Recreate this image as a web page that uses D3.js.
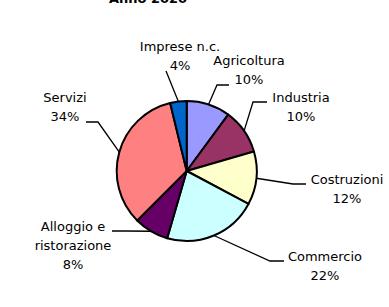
<!DOCTYPE html>
<html>
<head>
<meta charset="utf-8">
<script src="https://cdn.jsdelivr.net/npm/d3@7"></script>
<style>
  html, body { margin: 0; padding: 0; background: #ffffff; }
  svg { display: block; }
  text { font-family: "DejaVu Sans", Verdana, sans-serif; fill: #000; }
</style>
</head>
<body>
<svg id="chart" width="389" height="307"></svg>
<script>
// ---- Data ----
const title = "Anno 2020";
const categories = ["Agricoltura", "Industria", "Costruzioni", "Commercio", "Alloggio e ristorazione", "Servizi", "Imprese n.c."];
const values = [10.1, 10.4, 12.3, 21.7, 8.0, 33.7, 3.8];
const colors = ["#9999FF", "#993366", "#FFFFCC", "#CCFFFF", "#660066", "#FF8080", "#0066CC"];

// ---- Layout (label placement, not data) ----
// lx, ly: label centre x and first baseline; ex, ey: leader elbow; hx: end of horizontal run
const labelLayout = [
  { lx: 249, ly: 65,  ex: 217, ey: 85,  hx: 229, lines: 1 },
  { lx: 301, ly: 102, ex: 253, ey: 102, hx: 267, lines: 1 },
  { lx: 347, ly: 184, ex: 293, ey: 184, hx: 306, lines: 1 },
  { lx: 325, ly: 261, ex: 270, ey: 261, hx: 284, lines: 1 },
  { lx: 73,  ly: 231, ex: 125, ey: 231, hx: 112, lines: 2 },
  { lx: 65,  ly: 102, ex: 98,  ey: 122, hx: 86,  lines: 1 },
  { lx: 180, ly: 51,  ex: 166, ey: 71,  hx: 166, lines: 1 }
];

const W = 389, H = 307;
const cx = 186.7, cy = 171, R = 70;
const lineH = 19;

const svg = d3.select("#chart");

svg.append("text")
  .attr("x", 148).attr("y", 3)
  .attr("text-anchor", "middle")
  .style("font-weight", "bold")
  .style("font-size", "13px")
  .text(title);

const pie = d3.pie().sort(null).value(d => d.value).startAngle(0).endAngle(2 * Math.PI);
const data = categories.map((c, i) => ({ name: c, value: values[i], color: colors[i], layout: labelLayout[i] }));
const arcs = pie(data);
const arc = d3.arc().innerRadius(0).outerRadius(R);
const edgeArc = d3.arc().innerRadius(R).outerRadius(R);

const g = svg.append("g").attr("transform", `translate(${cx},${cy})`);

g.selectAll("path.slice")
  .data(arcs)
  .join("path")
  .attr("class", "slice")
  .attr("d", arc)
  .attr("fill", d => d.data.color)
  .attr("stroke", "#000")
  .attr("stroke-width", 2)
  .attr("stroke-linejoin", "round");

// leader lines
arcs.forEach(d => {
  const L = d.data.layout;
  const p = edgeArc.centroid(d);
  const pts = [[p[0] + cx, p[1] + cy], [L.ex, L.ey], [L.hx, L.ey]];
  svg.append("path")
    .attr("d", d3.line()(pts))
    .attr("fill", "none")
    .attr("stroke", "#000")
    .attr("stroke-width", 1.3);
});

// labels
arcs.forEach(d => {
  const L = d.data.layout;
  let lines;
  if (L.lines === 2) {
    const words = d.data.name.split(" ");
    lines = [words.slice(0, 2).join(" "), words.slice(2).join(" ")];
  } else {
    lines = [d.data.name];
  }
  lines.push(Math.round(d.data.value) + "%");
  const t = svg.append("text")
    .attr("text-anchor", "middle")
    .style("font-size", "13px");
  lines.forEach((s, k) => {
    t.append("tspan").attr("x", L.lx).attr("y", L.ly + k * lineH).text(s);
  });
});
</script>
</body>
</html>
